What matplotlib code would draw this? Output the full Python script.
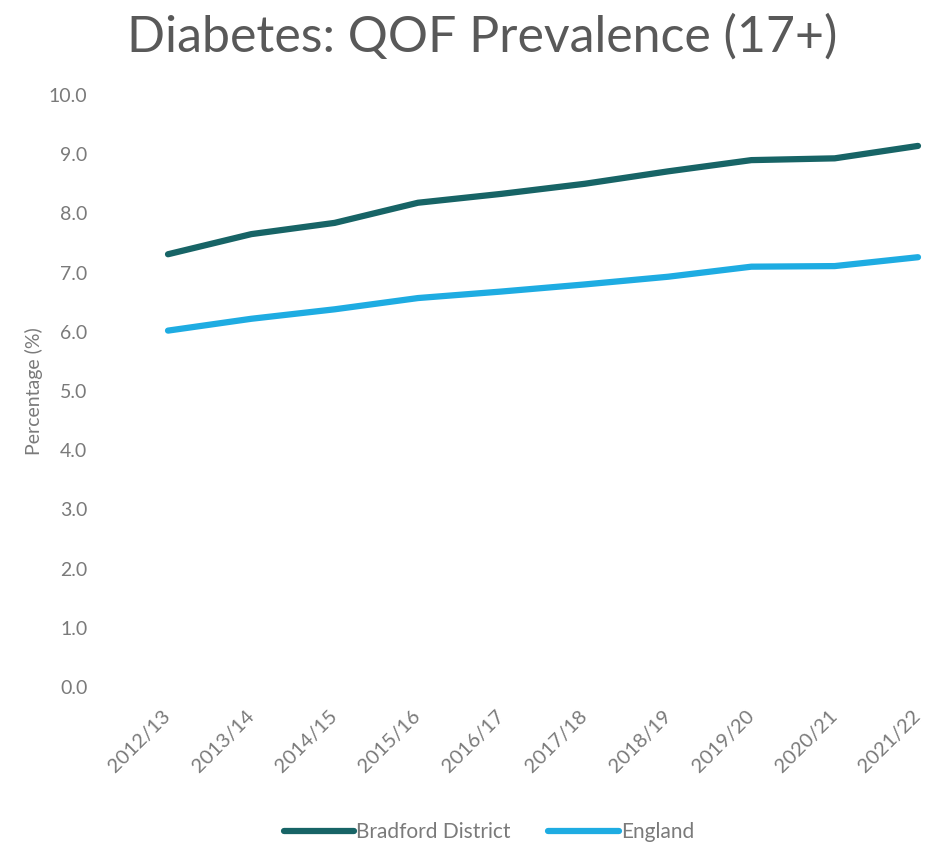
import matplotlib
matplotlib.use("Agg")
import matplotlib.pyplot as plt

# values
years = ["2012/13", "2013/14", "2014/15", "2015/16", "2016/17",
         "2017/18", "2018/19", "2019/20", "2020/21", "2021/22"]
bradford = [7.31, 7.65, 7.84, 8.18, 8.33, 8.50, 8.71, 8.90, 8.93, 9.14]
england = [6.02, 6.22, 6.38, 6.57, 6.68, 6.80, 6.93, 7.10, 7.11, 7.26]

plt.rcParams['font.family'] = ['Lato', 'DejaVu Sans']
grey = "#7a7a7a"

fig = plt.figure(figsize=(9.46, 8.49), dpi=100)
ax = fig.add_axes([168/946, 1-687/849, 750/946, (687-95)/849])

x = range(len(years))
ax.plot(x, bradford, color="#176466", lw=4.5, solid_capstyle="round",
        label="Bradford District", clip_on=False)
ax.plot(x, england, color="#1eace2", lw=4.5, solid_capstyle="round",
        label="England", clip_on=False)

ax.set_xlim(0, len(years) - 1)
ax.set_ylim(0, 10)
ax.set_yticks([i for i in range(11)])
ax.set_yticklabels(["%.1f" % i for i in range(11)], fontsize=14, color=grey)
ax.set_xticks(list(x))
ax.set_xticklabels(years, fontsize=14.5, color=grey, rotation=45,
                   ha="right", va="center", rotation_mode="anchor")
ax.tick_params(axis="y", length=0, pad=58)
ax.tick_params(axis="x", length=0, pad=19)
for s in ax.spines.values():
    s.set_visible(False)

ax.set_ylabel("Percentage (%)", fontsize=14, color=grey)
ax.yaxis.set_label_coords(-125/750, 0.5)

fig.text(0.51, 0.956, "Diabetes: QOF Prevalence (17+)", ha="center", va="center",
         fontsize=36, color="#595959")

fig.legend(loc="center", bbox_to_anchor=(0.517, 0.02), ncol=2, frameon=False,
           fontsize=15, handlelength=3.4, handletextpad=0.1, columnspacing=1.8,
           labelcolor=grey)

fig.savefig("out.png", dpi=100)
